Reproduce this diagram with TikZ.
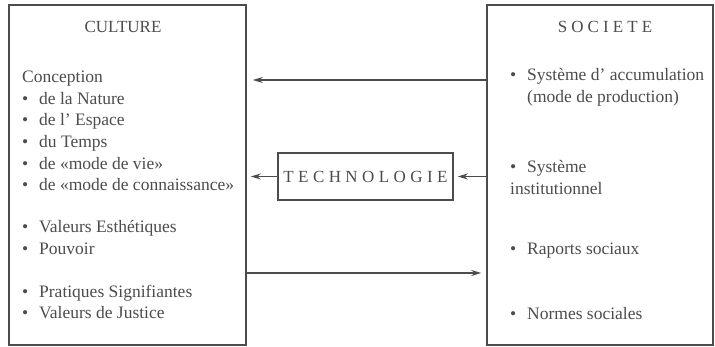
\documentclass[tikz,border=0pt]{standalone}
\usepackage{fontspec}
\setmainfont{Liberation Serif}
\usetikzlibrary{arrows.meta}
\definecolor{ink}{gray}{0.3}
\tikzset{
  bigbox/.style={draw=ink, line width=1.6pt, minimum height=340pt, inner sep=0pt},
  arr/.style={draw=ink, line width=1.2pt, -{Stealth[length=10pt,width=6pt]}},
  item/.style={anchor=mid west, inner sep=0pt, text=ink, font=\fontsize{17.5}{20}\selectfont},
  head/.style={inner sep=0pt, text=ink, font=\fontsize{17}{20}\selectfont}
}
\newcommand{\bul}{\makebox[17pt][l]{\textbullet}}
\begin{document}
\begin{tikzpicture}[x=1pt,y=-1pt]
\useasboundingbox (0,0) rectangle (715,347);
% boxes
\node[bigbox, minimum width=237pt] (culture) at (127.5,175) {};
\node[bigbox, minimum width=226pt] (societe) at (600,175) {};
\node[head, draw=ink, line width=1.6pt, minimum width=175pt, minimum height=47pt] (techno) at (365.5,176.5) {\addfontfeature{LetterSpace=26}TECHNOLOGIE};
% titles
\node[head] (cultitle) at (123,27) {CULTURE};
\node[head] (soctitle) at (605,27) {\addfontfeature{LetterSpace=24}SOCIETE};
% left list
\node[item] (concep) at (22,80) {Conception};
\foreach \y/\txt [count=\i] in {102/de la Nature, 123/de l' Espace, 145/du Temps,
  167/de «mode de vie», 188/de «mode de connaissance», 230/Valeurs Esthétiques,
  252/Pouvoir, 295/Pratiques Signifiantes, 316/Valeurs de Justice}
  \node[item] (cult-\i) at (22,\y) {\bul\txt};
% right list
\foreach \y/\txt [count=\i] in {78/Système d' accumulation, 170/Système,
  252/Raports sociaux, 317/Normes sociales}
  \node[item] (soc-\i) at (510,\y) {\bul\txt};
\node[item] (prod) at (527,100) {(mode de production)};
\node[item] (instit) at (510,192) {institutionnel};
% arrows
\draw[arr] (societe.west |- 0,80) -- ([xshift=6pt]culture.east |- 0,80);
\draw[arr] (techno.west) -- ([xshift=4pt]culture.east |- techno.west);
\draw[arr] (societe.west |- techno.east) -- ([xshift=4pt]techno.east);
\draw[arr] (culture.east |- 0,273) -- ([xshift=-5pt]societe.west |- 0,273);
\end{tikzpicture}
\end{document}
